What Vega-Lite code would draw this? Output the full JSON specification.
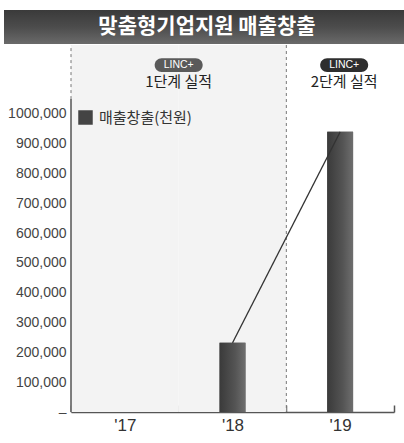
{
  "$schema": "https://vega.github.io/schema/vega-lite/v6.json",
  "padding": {"left": 4, "top": 10, "right": 0, "bottom": 0},
  "background": "white",
  "spacing": 0,
  "config": {
    "view": {"stroke": null},
    "font": "Noto Sans CJK KR",
    "axisY": {
      "labelOverlap": false, "labelBound": false, "labelSeparation": 0,
      "labelFont": "Liberation Sans", "labelFontSize": 14, "labelColor": "#444", "labelPadding": 5,
      "ticks": false, "domain": false, "grid": false, "offset": -67, "minExtent": 0, "title": null
    }
  },
  "vconcat": [
    {
      "width": 400,
      "height": 34,
      "data": {"values": [{"title": "맞춤형기업지원 매출창출"}]},
      "layer": [
        {
          "mark": {"type": "rect", "color": {"gradient": "linear", "x1": 0, "y1": 0, "x2": 0, "y2": 1, "stops": [{"offset": 0, "color": "#3a3a3a"}, {"offset": 0.5, "color": "#4c4c4c"}, {"offset": 1, "color": "#6a6a6a"}]}},
          "encoding": {}
        },
        {
          "mark": {"type": "text", "color": "white", "fontSize": 21, "fontWeight": "bold", "font": "Noto Sans CJK KR", "baseline": "middle", "align": "center", "dx": 3},
          "encoding": {"text": {"field": "title"}}
        }
      ]
    },
    {
      "width": 390,
      "height": 367,
      "data": {"values": [
        {"year": "'17", "sales": null, "stage": "1"},
        {"year": "'18", "sales": 232000, "stage": "1"},
        {"year": "'19", "sales": 940000, "stage": "2"}
      ]},
      "encoding": {
        "x": {
          "field": "year", "type": "ordinal",
          "scale": {"domain": ["'17", "'18", "'19"], "range": [67, 390], "paddingInner": 0, "paddingOuter": 0},
          "axis": {
            "title": null, "labelAngle": 0, "labelFont": "Liberation Sans", "labelFontSize": 17, "labelColor": "#333",
            "domainColor": "#555", "domainWidth": 1.5, "tickColor": "#555", "tickWidth": 1.5, "tickBand": "extent", "tickSize": -7,
            "labelPadding": 12, "grid": false
          }
        }
      },
      "layer": [
        {
          "transform": [{"filter": "datum.stage === '1'"}],
          "mark": {"type": "bar", "color": "#f3f3f3"},
          "encoding": {}
        },
        {
          "transform": [{"filter": "datum.year === \"'17\""}],
          "mark": {"type": "rule", "color": "#777", "strokeDash": [3, 3], "strokeWidth": 1},
          "encoding": {
            "x": {"field": "year", "type": "ordinal", "bandPosition": 0},
            "y": {"datum": 1050000, "type": "quantitative", "axis": {"values": [0, 100000, 200000, 300000, 400000, 500000, 600000, 700000, 800000, 900000, 1000000], "labelExpr": "datum.value === 0 ? '–' : (datum.value === 1000000 ? '1000,000' : format(datum.value, ','))", "labelOverlap": false}},
            "y2": {"datum": 1231500}
          }
        },
        {
          "transform": [{"filter": "datum.year === \"'19\""}],
          "mark": {"type": "rule", "color": "#777", "strokeDash": [3, 3], "strokeWidth": 1},
          "encoding": {
            "x": {"field": "year", "type": "ordinal", "bandPosition": 0}
          }
        },
        {
          "transform": [{"filter": "datum.year === \"'17\""}],
          "mark": {"type": "rule", "color": "#555", "strokeWidth": 1.5},
          "encoding": {
            "x": {"field": "year", "type": "ordinal", "bandPosition": 0},
            "y": {"datum": 0, "type": "quantitative", "axis": {"values": [0, 100000, 200000, 300000, 400000, 500000, 600000, 700000, 800000, 900000, 1000000], "labelExpr": "datum.value === 0 ? '–' : (datum.value === 1000000 ? '1000,000' : format(datum.value, ','))", "labelOverlap": false}},
            "y2": {"datum": 1050000}
          }
        },
        {
          "transform": [{"filter": "datum.sales != null"}],
          "mark": {"type": "bar", "width": {"band": 0.24}},
          "encoding": {
            "y": {
              "field": "sales", "type": "quantitative",
              "scale": {"domain": [0, 1231500], "nice": false},
              "axis": {"values": [0, 100000, 200000, 300000, 400000, 500000, 600000, 700000, 800000, 900000, 1000000], "labelExpr": "datum.value === 0 ? '–' : (datum.value === 1000000 ? '1000,000' : format(datum.value, ','))", "labelOverlap": false}
            },
            "color": {
              "datum": "매출창출(천원)",
              "scale": {"range": ["#444444"]},
              "legend": {
                "title": null, "orient": "none", "legendX": 74, "legendY": 100, "padding": 0,
                "symbolType": "square", "symbolSize": 210, "symbolStrokeWidth": 0, "symbolOpacity": 1,
                "labelFont": "Noto Sans CJK KR", "labelFontSize": 15, "labelColor": "#333", "labelOffset": 6
              }
            }
          }
        },
        {
          "transform": [{"filter": "datum.sales != null"}],
          "mark": {"type": "bar", "width": {"band": 0.24}, "color": {"gradient": "linear", "x1": 0, "y1": 0, "x2": 1, "y2": 0, "stops": [{"offset": 0, "color": "#3a3a3a"}, {"offset": 0.6, "color": "#545454"}, {"offset": 1, "color": "#6e6e6e"}]}},
          "encoding": {
            "y": {"field": "sales", "type": "quantitative", "axis": {"values": [0, 100000, 200000, 300000, 400000, 500000, 600000, 700000, 800000, 900000, 1000000], "labelExpr": "datum.value === 0 ? '–' : (datum.value === 1000000 ? '1000,000' : format(datum.value, ','))", "labelOverlap": false}}
          }
        },
        {
          "transform": [{"filter": "datum.sales != null"}],
          "mark": {"type": "line", "color": "#333", "strokeWidth": 1.2},
          "encoding": {
            "y": {"field": "sales", "type": "quantitative", "axis": {"values": [0, 100000, 200000, 300000, 400000, 500000, 600000, 700000, 800000, 900000, 1000000], "labelExpr": "datum.value === 0 ? '–' : (datum.value === 1000000 ? '1000,000' : format(datum.value, ','))", "labelOverlap": false}}
          }
        },
        {
          "data": {"values": [{"year": "'18", "badge": "LINC+", "label": "1단계 실적"}]},
          "encoding": {
            "x": {"field": "year", "type": "ordinal", "bandPosition": 0}
          },
          "layer": [
            {
              "mark": {"type": "point", "filled": true, "opacity": 1, "color": "#5a5a5a", "size": 2304, "shape": "M-0.71,-0.29L0.71,-0.29A0.29,0.29,0,0,1,0.71,0.29L-0.71,0.29A0.29,0.29,0,0,1,-0.71,-0.29Z"},
              "encoding": {"y": {"datum": 1164000, "type": "quantitative", "axis": {"values": [0, 100000, 200000, 300000, 400000, 500000, 600000, 700000, 800000, 900000, 1000000], "labelExpr": "datum.value === 0 ? '–' : (datum.value === 1000000 ? '1000,000' : format(datum.value, ','))", "labelOverlap": false}}}
            },
            {
              "mark": {"type": "text", "color": "white", "fontSize": 10.5, "font": "Liberation Sans"},
              "encoding": {"y": {"datum": 1164000, "type": "quantitative", "axis": {"values": [0, 100000, 200000, 300000, 400000, 500000, 600000, 700000, 800000, 900000, 1000000], "labelExpr": "datum.value === 0 ? '–' : (datum.value === 1000000 ? '1000,000' : format(datum.value, ','))", "labelOverlap": false}}, "text": {"field": "badge"}}
            },
            {
              "mark": {"type": "text", "color": "#222", "fontSize": 15, "font": "Noto Sans CJK KR"},
              "encoding": {"y": {"datum": 1108000, "type": "quantitative", "axis": {"values": [0, 100000, 200000, 300000, 400000, 500000, 600000, 700000, 800000, 900000, 1000000], "labelExpr": "datum.value === 0 ? '–' : (datum.value === 1000000 ? '1000,000' : format(datum.value, ','))", "labelOverlap": false}}, "text": {"field": "label"}}
            }
          ]
        },
        {
          "data": {"values": [{"year": "'19", "badge": "LINC+", "label": "2단계 실적"}]},
          "layer": [
            {
              "mark": {"type": "point", "filled": true, "opacity": 1, "color": "#2e2e2e", "size": 2304, "xOffset": 4, "shape": "M-0.71,-0.29L0.71,-0.29A0.29,0.29,0,0,1,0.71,0.29L-0.71,0.29A0.29,0.29,0,0,1,-0.71,-0.29Z"},
              "encoding": {"y": {"datum": 1164000, "type": "quantitative", "axis": {"values": [0, 100000, 200000, 300000, 400000, 500000, 600000, 700000, 800000, 900000, 1000000], "labelExpr": "datum.value === 0 ? '–' : (datum.value === 1000000 ? '1000,000' : format(datum.value, ','))", "labelOverlap": false}}}
            },
            {
              "mark": {"type": "text", "color": "white", "fontSize": 10.5, "font": "Liberation Sans", "xOffset": 4},
              "encoding": {"y": {"datum": 1164000, "type": "quantitative", "axis": {"values": [0, 100000, 200000, 300000, 400000, 500000, 600000, 700000, 800000, 900000, 1000000], "labelExpr": "datum.value === 0 ? '–' : (datum.value === 1000000 ? '1000,000' : format(datum.value, ','))", "labelOverlap": false}}, "text": {"field": "badge"}}
            },
            {
              "mark": {"type": "text", "color": "#222", "fontSize": 15, "font": "Noto Sans CJK KR", "xOffset": 4},
              "encoding": {"y": {"datum": 1108000, "type": "quantitative", "axis": {"values": [0, 100000, 200000, 300000, 400000, 500000, 600000, 700000, 800000, 900000, 1000000], "labelExpr": "datum.value === 0 ? '–' : (datum.value === 1000000 ? '1000,000' : format(datum.value, ','))", "labelOverlap": false}}, "text": {"field": "label"}}
            }
          ]
        }
      ]
    }
  ]
}
